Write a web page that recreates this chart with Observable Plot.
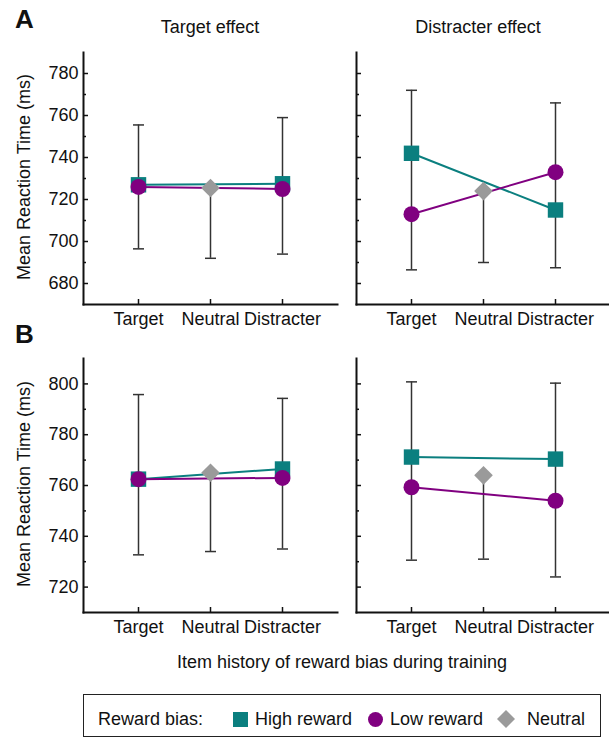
<!DOCTYPE html>
<html><head><meta charset="utf-8">
<script src="https://cdn.jsdelivr.net/npm/d3@7"></script>
<script src="https://cdn.jsdelivr.net/npm/@observablehq/plot@0.6"></script>
<style>
body{margin:0;background:#fff;font-family:"Liberation Sans",Arial,sans-serif;}
#root{position:relative;width:609px;height:739px;overflow:hidden;background:#fff;}
.abs{position:absolute;white-space:nowrap;color:#111;font-size:18px;line-height:1;}
.plotbox{position:absolute;}
</style></head><body><div id="root"></div>
<script>
// ---- Data ----
const categories = ["Target", "Neutral", "Distracter"];
const panelTitles = ["Target effect", "Distracter effect"];
const seriesNames = ["High reward", "Low reward", "Neutral"];

// Row A (y domain 670–790)
const A_yDomain = [670, 790];
const A_yTicks = [680, 700, 720, 740, 760, 780];
const A_yMinor = [690, 710, 730, 750, 770];
// A, Target effect: values at [Target, Distracter]
const A_target_high = [727, 727.5];
const A_target_low = [726, 725];
const A_target_neutral = 725.5;
const A_target_errLo = [696.5, 692, 694];
const A_target_errHi = [755.5, null, 759];
// A, Distracter effect
const A_distr_high = [742, 715];
const A_distr_low = [713, 733];
const A_distr_neutral = 724;
const A_distr_errLo = [686.5, 690, 687.5];
const A_distr_errHi = [772, null, 766];

// Row B (y domain 710–810)
const B_yDomain = [710, 810];
const B_yTicks = [720, 740, 760, 780, 800];
const B_yMinor = [730, 750, 770, 790];
// B, Target effect
const B_target_high = [762.5, 766.5];
const B_target_low = [762.5, 763];
const B_target_neutral = 765;
const B_target_errLo = [732.7, 734, 735];
const B_target_errHi = [795.8, null, 794.3];
// B, Distracter effect
const B_distr_high = [771.2, 770.4];
const B_distr_low = [759.3, 754];
const B_distr_neutral = 764;
const B_distr_errLo = [730.6, 731, 724];
const B_distr_errHi = [800.8, null, 800.3];

// ---- Styles ----
const TEAL = "#0b7f7f", PURPLE = "#800080", GRAY = "#9a9a9a", INK = "#111", ERR = "#333";
const FONT = '"Liberation Sans", Arial, sans-serif';

const capSymbol = {draw(ctx, size) { const h = Math.sqrt(size / Math.PI); ctx.moveTo(-h, 0); ctx.lineTo(h, 0); }};

function panel(o) {
  const ends = [categories[0], categories[2]];
  const high = ends.map((c, i) => ({cat: c, v: o.high[i], s: seriesNames[0]}));
  const low = ends.map((c, i) => ({cat: c, v: o.low[i], s: seriesNames[1]}));
  const neu = [{cat: categories[1], v: o.neutral, s: seriesNames[2]}];
  const err = categories.map((c, i) => ({cat: c, lo: o.errLo[i], hi: o.errHi[i] == null ? o.neutral : o.errHi[i]}));
  const caps = [];
  categories.forEach((c, i) => {
    caps.push({cat: c, v: o.errLo[i]});
    if (o.errHi[i] != null) caps.push({cat: c, v: o.errHi[i]});
  });
  const marks = [
    Plot.ruleX(err, {x: "cat", y1: "lo", y2: "hi", stroke: ERR, strokeWidth: 1.5}),
    Plot.dot(caps, {x: "cat", y: "v", symbol: capSymbol, r: 5.5, stroke: ERR, strokeWidth: 1.5, fill: "none"}),
    Plot.line(high, {x: "cat", y: "v", stroke: TEAL, strokeWidth: 2}),
    Plot.line(low, {x: "cat", y: "v", stroke: PURPLE, strokeWidth: 2}),
    Plot.dot(high, {x: "cat", y: "v", symbol: "square", r: 8.7, fill: TEAL, stroke: null}),
    Plot.dot(low, {x: "cat", y: "v", symbol: "circle", r: 8, fill: PURPLE, stroke: null}),
    Plot.dot(neu, {x: "cat", y: "v", symbol: "diamond2", r: 8.4, fill: GRAY, stroke: null}),
    Plot.axisY({ticks: o.yTicks, tickSize: -5, tickFormat: () => "", label: null, strokeWidth: 1.5, stroke: INK}),
    Plot.axisY({ticks: o.yMinor, tickSize: -3, tickFormat: () => "", label: null, strokeWidth: 1.5, stroke: INK}),
    Plot.axisX({tickSize: -5, tickFormat: () => "", label: null, strokeWidth: 1.5, stroke: INK}),
    Plot.axisX({tickSize: 0, tickPadding: 8, label: null, fill: INK}),
    Plot.frame({anchor: "left", stroke: INK, strokeWidth: 2}),
    Plot.frame({anchor: "bottom", stroke: INK, strokeWidth: 2})
  ];
  if (o.yLabels) marks.push(Plot.axisY({ticks: o.yTicks, tickSize: 0, tickPadding: 5, label: null, fill: INK}));
  return Plot.plot({
    width: o.width, height: 300,
    marginLeft: o.ml, marginRight: o.mr, marginTop: 12, marginBottom: o.mb,
    x: {type: "point", domain: categories, padding: 0.74, label: null},
    y: {domain: o.yDomain, label: null},
    style: {fontSize: "18px", fontFamily: FONT, background: "transparent", color: INK, overflow: "visible"},
    marks
  });
}

const root = document.getElementById("root");
function place(node, left, top) {
  const d = document.createElement("div");
  d.className = "plotbox"; d.style.left = left + "px"; d.style.top = top + "px";
  d.appendChild(node); root.appendChild(d);
}
function label(text, x, y, opts = {}) {
  const d = document.createElement("div");
  d.className = "abs"; d.textContent = text;
  d.style.left = x + "px"; d.style.top = y + "px";
  const ax = opts.anchor === "start" ? "0" : "-50%";
  d.style.transform = `translate(${ax},-50%)`;
  if (opts.rotate) { d.style.transformOrigin = "50% 50%"; d.style.transform = `translate(-50%,-50%) rotate(${opts.rotate}deg)`; }
  if (opts.size) d.style.fontSize = opts.size + "px";
  if (opts.bold) d.style.fontWeight = "bold";
  root.appendChild(d);
  return d;
}

place(panel({width: 340, ml: 83, mr: 3, mb: 36, yDomain: A_yDomain, yTicks: A_yTicks, yMinor: A_yMinor,
  high: A_target_high, low: A_target_low, neutral: A_target_neutral, errLo: A_target_errLo, errHi: A_target_errHi, yLabels: true}), 0, 40);
place(panel({width: 309, ml: 56, mr: 0, mb: 36, yDomain: A_yDomain, yTicks: A_yTicks, yMinor: A_yMinor,
  high: A_distr_high, low: A_distr_low, neutral: A_distr_neutral, errLo: A_distr_errLo, errHi: A_distr_errHi, yLabels: false}), 300, 40);
place(panel({width: 340, ml: 83, mr: 3, mb: 34, yDomain: B_yDomain, yTicks: B_yTicks, yMinor: B_yMinor,
  high: B_target_high, low: B_target_low, neutral: B_target_neutral, errLo: B_target_errLo, errHi: B_target_errHi, yLabels: true}), 0, 346);
place(panel({width: 309, ml: 56, mr: 0, mb: 34, yDomain: B_yDomain, yTicks: B_yTicks, yMinor: B_yMinor,
  high: B_distr_high, low: B_distr_low, neutral: B_distr_neutral, errLo: B_distr_errLo, errHi: B_distr_errHi, yLabels: false}), 300, 346);

// Text
label("A", 15, 18.5, {anchor: "start", size: 26, bold: true});
label("B", 15, 334, {anchor: "start", size: 26, bold: true});
label(panelTitles[0], 210, 26.5);
label(panelTitles[1], 478, 26.5);
label("Mean Reaction Time (ms)", 24, 177, {rotate: -90});
label("Mean Reaction Time (ms)", 24, 484, {rotate: -90});
label("Item history of reward bias during training", 342, 662);

// Legend
const box = document.createElement("div");
Object.assign(box.style, {position: "absolute", left: "83px", top: "694px", width: "516px", height: "41px",
  border: "1.5px solid #222", background: "#fff"});
root.appendChild(box);
label("Reward bias:", 98, 718.5, {anchor: "start"});
function swatch(svgInner, left, top, w, h) {
  const ns = "http://www.w3.org/2000/svg";
  const s = document.createElementNS(ns, "svg");
  s.setAttribute("width", w); s.setAttribute("height", h);
  s.style.position = "absolute"; s.style.left = left + "px"; s.style.top = top + "px";
  s.innerHTML = svgInner; root.appendChild(s);
}
swatch(`<rect x="0" y="0" width="15" height="15" fill="${TEAL}"/>`, 233, 711.5, 15, 15);
label(seriesNames[0], 255, 718.5, {anchor: "start"});
swatch(`<circle cx="7.5" cy="7.5" r="7.5" fill="${PURPLE}"/>`, 368, 711.5, 15, 15);
label(seriesNames[1], 390, 718.5, {anchor: "start"});
swatch(`<polygon points="9,0 18,9 9,18 0,9" fill="${GRAY}"/>`, 497, 710, 18, 18);
label(seriesNames[2], 527, 718.5, {anchor: "start"});
</script></body></html>
